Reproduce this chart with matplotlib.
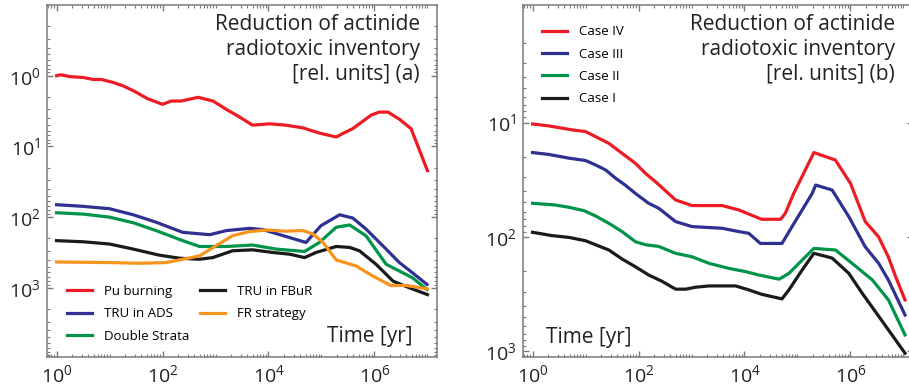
import numpy as np
import matplotlib
matplotlib.use("Agg")
import matplotlib.pyplot as plt
from matplotlib.ticker import FixedLocator, LogFormatterSciNotation, NullFormatter

plt.rcParams['font.family'] = ['Open Sans', 'DejaVu Sans']
plt.rcParams['mathtext.default'] = 'regular'

# ---- panel (a): reduction of actinide radiotoxic inventory ----
t_pu = [1, 1.2, 1.8, 3.2, 4.9, 7, 11.5, 18, 30, 52, 100, 145, 225, 470, 900,
        1600, 2800, 5000, 1.05e4, 2.1e4, 4.5e4, 9e4, 1.9e5, 2.5e5, 3.9e5,
        8.7e5, 1.23e6, 1.8e6, 3e6, 4.9e6, 1e7]
pu_burning = [1.0, 0.97, 1.03, 1.06, 1.13, 1.13, 1.24, 1.39, 1.67, 2.11, 2.54,
              2.28, 2.28, 2.02, 2.28, 2.99, 3.81, 5.0, 4.79, 5.0, 5.47, 6.46,
              7.36, 6.59, 5.6, 3.6, 3.27, 3.27, 4.16, 5.6, 22]

t_ads = [1, 3.2, 10, 28, 76, 240, 780, 1600, 4400, 7800, 1.9e4, 5.1e4, 9.8e4,
         2.2e5, 3.9e5, 6.9e5, 1.66e6, 2.95e6, 5.2e6, 9.8e6]
tru_ads = [66.7, 70.4, 76.0, 92.6, 118, 164, 177, 155, 144, 150, 183, 228, 132,
           92.6, 103, 147, 283, 439, 611, 896]

t_ds = [1, 3.2, 10, 28, 76, 240, 500, 1600, 5000, 1.4e4, 4.8e4, 9.1e4, 1.9e5,
        3.4e5, 6.9e5, 1.66e6, 2.95e6, 5.2e6, 9.8e6]
double_strata = [86.7, 90.6, 100, 120, 155, 215, 260, 260, 248, 283, 306, 228,
                 139, 129, 183, 464, 578, 719, 1056]

t_fbur = [1, 3.2, 10, 28, 87, 210, 500, 890, 2100, 5000, 1.2e4, 2.5e4, 4.8e4,
          7.9e4, 1.9e5, 3.4e5, 5.2e5, 1.07e6, 2.24e6, 4.6e6, 1e7]
tru_fbur = [215, 223, 240, 283, 345, 381, 394, 373, 299, 290, 316, 334, 373,
            316, 260, 268, 299, 464, 803, 1000, 1246]

t_fr = [1, 10, 37, 117, 240, 500, 1020, 2100, 4400, 9100, 2.1e4, 4.5e4, 6.9e4,
        1.07e5, 1.9e5, 4.5e5, 9.3e5, 2.04e6, 4e6, 1e7]
fr_strategy = [430, 439, 449, 439, 394, 353, 254, 183, 160, 152, 158, 155, 173,
               228, 403, 490, 681, 926, 926, 1033]

# ---- panel (b): cases I-IV ----
t_c4 = [1, 2, 5.6, 10, 15.5, 27.5, 49, 87, 135, 209, 500, 1020, 3800, 7800,
        2.1e4, 4.8e4, 5.9e4, 8.5e4, 2.04e5, 5.2e5, 1e6, 1.9e6, 3.4e6, 5.2e6,
        7.1e6, 1.07e7]
case4 = [10.3, 10.7, 11.6, 12.0, 13.3, 15.2, 18.6, 22.7, 27.8, 32.9, 47.5, 53.2,
         53.2, 58.1, 70.1, 70.1, 62.1, 41.6, 18.3, 21.3, 34.0, 73.4, 100, 150,
         222, 355]

t_c3 = [1, 2, 4.9, 10, 15.5, 24, 37, 56, 87, 155, 240, 500, 1020, 3800, 7800,
        1.2e4, 2e4, 5.1e4, 7.9e4, 1.9e5, 2.2e5, 4.5e5, 9.3e5, 1.9e6, 3.4e6,
        5.2e6, 1.07e7]
case3 = [18.3, 19.0, 20.5, 21.5, 23.5, 26.0, 30.7, 35.2, 41.6, 50.8, 56.1, 73.4,
         81.2, 84.0, 89.8, 92.9, 114, 114, 81.2, 41.6, 35.2, 38.9, 66.5, 122,
         170, 238, 481]

t_c2 = [1, 2.7, 4.9, 9.3, 15.5, 27.5, 49, 87, 135, 240, 500, 1020, 2140, 5000,
        1.05e4, 1.86e4, 4.5e4, 6.9e4, 1.23e5, 2.04e5, 5.2e5, 1.07e6, 2.6e6,
        5.2e6, 1.07e7]
case2 = [50.8, 52.6, 55.1, 58.9, 65.6, 76.0, 89.8, 110, 117, 121, 139, 149, 170,
         188, 201, 215, 234, 208, 159, 126, 130, 170, 238, 355, 718]

t_c1 = [1, 2.3, 4.9, 10, 27.5, 49, 87, 155, 282, 500, 776, 1200, 2140, 6800,
        1.2e4, 2.1e4, 5.1e4, 6.9e4, 1.23e5, 2.04e5, 4.5e5, 9.3e5, 1.66e6,
        2.95e6, 5.2e6, 1.07e7]
case1 = [91.0, 97.3, 101, 108, 130, 156, 182, 215, 245, 286, 286, 275, 268, 268,
         290, 317, 348, 290, 194, 139, 153, 208, 310, 449, 649, 1038]

RED = '#ed1c24'
BLUE = '#2e3192'
GREEN = '#00934a'
BLACK = '#1a1a1a'
ORANGE = '#f7941d'
GRAY = '#7a7a7a'
LW = 2.3

fig = plt.figure(figsize=(9.09, 3.9), dpi=100)
ax1 = fig.add_axes([47 / 909, 33 / 390, 390 / 909, 352 / 390])
ax2 = fig.add_axes([523 / 909, 33 / 390, 390 / 909, 352 / 390])

ax1.plot(t_pu, pu_burning, color=RED, lw=LW, label='Pu burning')
ax1.plot(t_ads, tru_ads, color=BLUE, lw=LW, label='TRU in ADS')
ax1.plot(t_ds, double_strata, color=GREEN, lw=LW, label='Double Strata')
ax1.plot(t_fbur, tru_fbur, color=BLACK, lw=LW, label='TRU in FBuR')
ax1.plot(t_fr, fr_strategy, color=ORANGE, lw=LW, label='FR strategy')

ax2.plot(t_c4, case4, color=RED, lw=LW, label='Case IV')
ax2.plot(t_c3, case3, color=BLUE, lw=LW, label='Case III')
ax2.plot(t_c2, case2, color=GREEN, lw=LW, label='Case II')
ax2.plot(t_c1, case1, color=BLACK, lw=LW, label='Case I')

x_major = [1e0, 1e2, 1e4, 1e6]
x_minor = [s * 10.0 ** k for k in range(-1, 8) for s in range(1, 10)
           if s * 10.0 ** k not in x_major]
y_minor = [s * 10.0 ** k for k in range(-2, 5) for s in range(2, 10)]

for ax in (ax1, ax2):
    ax.set_xscale('log')
    ax.set_yscale('log')
    ax.set_xlim(10 ** -0.18, 10 ** 7.18)
    ax.xaxis.set_major_locator(FixedLocator(x_major))
    ax.xaxis.set_minor_locator(FixedLocator(x_minor))
    ax.xaxis.set_major_formatter(LogFormatterSciNotation())
    ax.xaxis.set_minor_formatter(NullFormatter())
    ax.yaxis.set_minor_locator(FixedLocator(y_minor))
    ax.yaxis.set_minor_formatter(NullFormatter())
    ax.yaxis.set_major_formatter(LogFormatterSciNotation())
    ax.tick_params(which='both', direction='in', top=True, right=True,
                   color=GRAY, labelsize=14, labelcolor='#222222')
    ax.tick_params(which='major', length=4, width=1, pad=5)
    ax.tick_params(which='minor', length=2.5, width=0.8)
    for sp in ax.spines.values():
        sp.set_color(GRAY)
        sp.set_linewidth(1.1)

ax1.set_ylim(9.5e3, 0.1)
ax1.yaxis.set_major_locator(FixedLocator([1, 10, 100, 1000]))
ax2.set_ylim(1120, 0.94)
ax2.yaxis.set_major_locator(FixedLocator([10, 100, 1000]))

title_kw = dict(ha='right', va='top', fontsize=15, color='#222222',
                linespacing=1.25)
ax1.text(0.956, 0.975, 'Reduction of actinide\nradiotoxic inventory\n[rel. units] (a)',
         transform=ax1.transAxes, **title_kw)
ax2.text(0.954, 0.975, 'Reduction of actinide\nradiotoxic inventory\n[rel. units] (b)',
         transform=ax2.transAxes, **title_kw)

ax1.text(0.936, 0.043, 'Time [yr]', transform=ax1.transAxes, ha='right',
         va='baseline', fontsize=15, color='#222222')
ax2.text(0.059, 0.040, 'Time [yr]', transform=ax2.transAxes, ha='left',
         va='baseline', fontsize=15, color='#222222')

ax1.legend(loc='upper left', bbox_to_anchor=(0.051, 0.205), ncol=2,
           frameon=False, fontsize=9.5, handlelength=1.9, handletextpad=0.95,
           labelspacing=0.72, columnspacing=0.75, borderpad=0, borderaxespad=0)
ax2.legend(loc='upper left', bbox_to_anchor=(0.049, 0.942), frameon=False,
           fontsize=9.5, handlelength=1.9, handletextpad=0.9,
           labelspacing=0.7, borderpad=0, borderaxespad=0)

fig.savefig('out.png', dpi=100)
